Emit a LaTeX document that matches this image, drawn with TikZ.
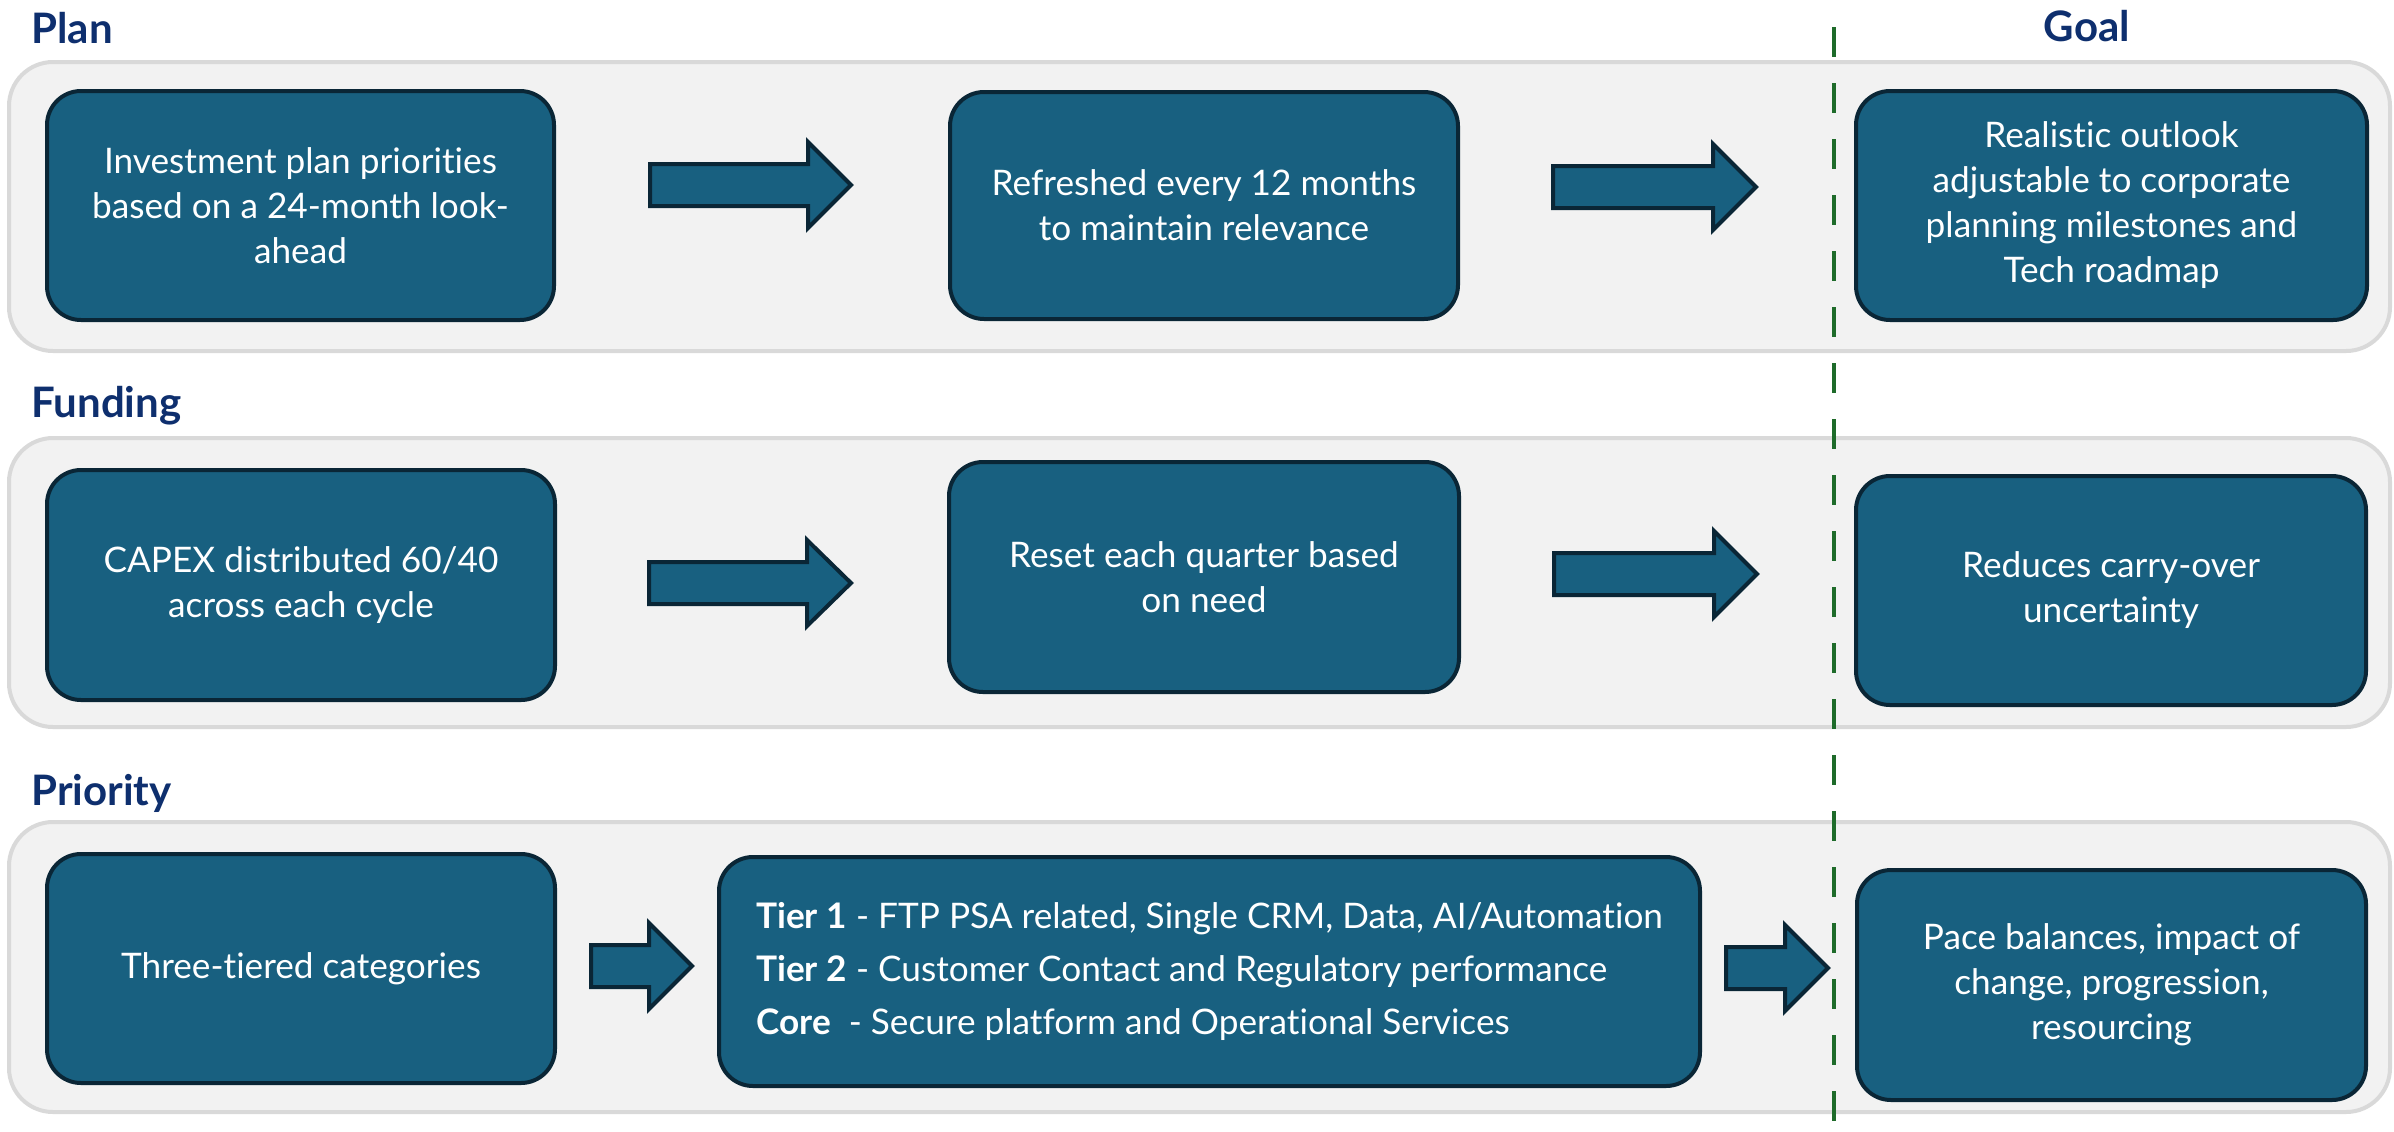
\documentclass[tikz,border=0pt]{standalone}
\usepackage{fontspec}
\setmainfont{Lato}[Ligatures=NoCommon]
\usetikzlibrary{fit}
\definecolor{boxblue}{HTML}{186080}
\definecolor{boxedge}{HTML}{0A2636}
\definecolor{panelfill}{HTML}{F2F2F2}
\definecolor{paneledge}{HTML}{D9D9D9}
\definecolor{headnavy}{HTML}{0E2F6E}
\definecolor{goalgreen}{HTML}{1E6B2A}
\newcommand{\blockarrow}[4]{%
  \draw[barrow] (#1,#4-21) -- (#2,#4-21) -- (#2,#4-43) -- (#3,#4) -- (#2,#4+43) -- (#2,#4+21) -- (#1,#4+21) -- cycle;}
\begin{document}
\begin{tikzpicture}[x=0.5pt,y=-0.5pt,
  panel/.style={draw=paneledge, fill=panelfill, line width=2pt, rounded corners=22pt, inner sep=0pt},
  bluebox/.style={draw=boxedge, fill=boxblue, line width=2pt, rounded corners=17pt, inner sep=0pt},
  boxtext/.style={text=white, align=center, inner sep=0pt, font=\fontsize{17.6}{22.5}\selectfont},
  barrow/.style={draw=boxedge, fill=boxblue, line width=2pt, line join=miter},
  heading/.style={text=headnavy, font=\fontsize{21}{24}\selectfont\bfseries, inner sep=0pt},
  goalline/.style={draw=goalgreen, line width=1.6pt, dash pattern=on 15 off 13}
]
\fill[white] (0,0) rectangle (2394,1131);
\useasboundingbox (0,0) rectangle (2394,1131);

% panels
\node[panel, fit={(9,62) (2390,351)}] (planpanel) {};
\node[panel, fit={(9,438) (2390,727)}] (fundpanel) {};
\node[panel, fit={(9,822) (2390,1112)}] (prioritypanel) {};

% headings
\node[heading, anchor=base west] (hplan) at (31,43) {Plan};
\node[heading, anchor=base west] (hfund) at (31,417) {Funding};
\node[heading, anchor=base west] (hprio) at (31,805) {Priority};
\node[heading, anchor=base] (hgoal) at (2087,41) {Goal};

% goal divider
\coordinate (gtop) at (1834,27);
\coordinate (gbot) at (1834,1131);
\draw[goalline] (gtop) -- (gbot);

% Plan row
\node[bluebox, fit={(47,91) (554,320)}] (p1) {};
\node[bluebox, fit={(950,92) (1458,319)}] (p2) {};
\node[bluebox, fit={(1856,91) (2367,320)}] (p3) {};
\node[boxtext] (p1t) at (p1.center) {Investment plan priorities\\based on a 24-month look-\\ahead};
\node[boxtext] (p2t) at (p2.center) {Refreshed every 12 months\\to maintain relevance};
\node[boxtext] (p3t) at (p3.center) {Realistic outlook\\adjustable to corporate\\planning milestones and\\Tech roadmap};
\blockarrow{650}{808}{851}{185}
\blockarrow{1553}{1713}{1756}{187}

% Funding row
\node[bluebox, fit={(47,470) (555,700)}] (f1) {};
\node[bluebox, fit={(949,462) (1459,692)}] (f2) {};
\node[bluebox, fit={(1856,476) (2366,705)}] (f3) {};
\node[boxtext] (f1t) at (f1.center) {CAPEX distributed 60/40\\across each cycle};
\node[boxtext] (f2t) at (f2.center) {Reset each quarter based\\on need};
\node[boxtext] (f3t) at (f3.center) {Reduces carry-over\\uncertainty};
\blockarrow{649}{807}{851}{583}
\blockarrow{1554}{1714}{1757}{574}

% Priority row
\node[bluebox, fit={(47,854) (555,1083)}] (r1) {};
\node[bluebox, fit={(719,857) (1700,1086)}] (r2) {};
\node[bluebox, fit={(1857,870) (2366,1100)}] (r3) {};
\node[boxtext] (r1t) at (r1.center) {Three-tiered categories};
\node[boxtext, align=left, font=\fontsize{17.6}{26.5}\selectfont] (r2t) at (r2.center) {\textbf{Tier 1} - FTP PSA related, Single CRM, Data, AI/Automation\\\textbf{Tier 2} - Customer Contact and Regulatory performance\\\textbf{Core}\ \ - Secure platform and Operational Services};
\node[boxtext] (r3t) at (r3.center) {Pace balances, impact of\\change, progression,\\resourcing};
\blockarrow{591}{649}{692}{966}
\blockarrow{1726}{1785}{1828}{968}
\end{tikzpicture}
\end{document}
